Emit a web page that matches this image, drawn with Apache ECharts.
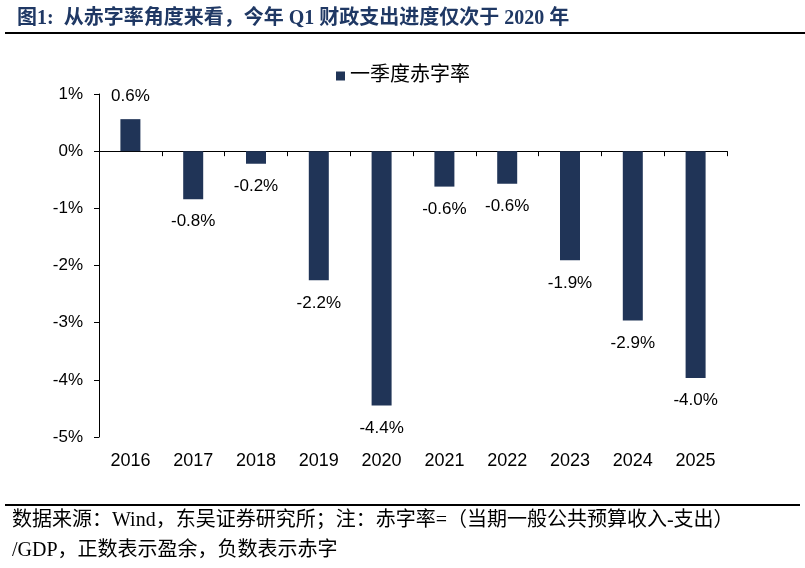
<!DOCTYPE html>
<html lang="zh">
<head>
    <meta charset="UTF-8">
    <title>一季度赤字率</title>
    <script type="text/javascript" src="https://cdn.jsdelivr.net/npm/echarts@6/dist/echarts.min.js"></script>
    <style>
        html, body { margin: 0; padding: 0; background: #fff; }
        #chart { width: 805px; height: 568px; }
    </style>
</head>
<body>
<div id="chart"></div>
<script type="text/javascript">
    // 数据
    var years = ['2016', '2017', '2018', '2019', '2020', '2021', '2022', '2023', '2024', '2025'];
    var deficitRate = [0.56, -0.84, -0.22, -2.26, -4.45, -0.62, -0.57, -1.91, -2.96, -3.97];
    var valueLabels = ['0.6%', '-0.8%', '-0.2%', '-2.2%', '-4.4%', '-0.6%', '-0.6%', '-1.9%', '-2.9%', '-4.0%'];
    var yTicks = [1, 0, -1, -2, -3, -4, -5];

    var narrow = "'Liberation Sans Narrow', 'Arial Narrow', 'Liberation Sans', sans-serif";
    var serif = "'Liberation Serif', 'Noto Sans CJK SC', serif";

    var mychart = echarts.init(document.getElementById('chart'));
    var option = {
        animation: false,
        title: {
            text: '图1:  从赤字率角度来看，今年 Q1 财政支出进度仅次于 2020 年',
            left: 12,
            top: 4,
            textStyle: {
                fontFamily: serif,
                fontWeight: 'bold',
                fontSize: 20,
                color: '#1f3864'
            }
        },
        legend: {
            data: ['一季度赤字率'],
            left: 331,
            top: 61,
            itemWidth: 9,
            itemHeight: 9,
            itemGap: 6,
            icon: 'rect',
            textStyle: { fontFamily: serif, fontSize: 20, color: '#000' }
        },
        grid: { left: 99, right: 78, top: 94, bottom: 131, containLabel: false, outerBoundsMode: 'none' },
        xAxis: [
            {
                // 0 轴线和刻度
                type: 'category',
                data: years,
                axisLine: { onZero: true, lineStyle: { color: '#000', width: 1 } },
                axisTick: { show: true, length: 5, lineStyle: { color: '#000' } },
                axisLabel: { show: false }
            },
            {
                // 底部年份标签
                type: 'category',
                data: years,
                position: 'bottom',
                axisLine: { show: false, onZero: false },
                axisTick: { show: false },
                axisLabel: {
                    margin: 15,
                    fontFamily: narrow,
                    fontSize: 18,
                    color: '#000'
                }
            }
        ],
        yAxis: {
            type: 'value',
            min: -5,
            max: 1,
            interval: 1,
            splitLine: { show: false },
            axisLine: { show: true, lineStyle: { color: '#000' } },
            axisTick: { show: true, length: 5, lineStyle: { color: '#000' } },
            axisLabel: {
                margin: 16,
                fontFamily: narrow,
                fontSize: 17,
                color: '#000',
                formatter: function (v) {
                    return yTicks.indexOf(v) >= 0 ? v + '%' : '';
                }
            }
        },
        series: [{
            name: '一季度赤字率',
            type: 'bar',
            xAxisIndex: 0,
            barWidth: 20,
            data: deficitRate,
            itemStyle: { color: '#203457' },
            label: {
                show: true,
                position: 'outside',
                distance: 14,
                fontFamily: narrow,
                fontSize: 17,
                color: '#000',
                formatter: function (p) {
                    return valueLabels[p.dataIndex];
                }
            }
        }],
        graphic: [
            {
                type: 'rect',
                shape: { x: 5, y: 32, width: 800, height: 2 },
                style: { fill: '#000' }
            },
            {
                type: 'rect',
                shape: { x: 5, y: 504, width: 795, height: 2 },
                style: { fill: '#000' }
            },
            {
                type: 'text',
                left: 12,
                top: 511,
                style: {
                    text: '数据来源：Wind，东吴证券研究所；注：赤字率=（当期一般公共预算收入-支出）',
                    font: "20px " + serif,
                    fill: '#000'
                }
            },
            {
                type: 'text',
                left: 12,
                top: 541,
                style: {
                    text: '/GDP，正数表示盈余，负数表示赤字',
                    font: "20px " + serif,
                    fill: '#000'
                }
            }
        ]
    };
    mychart.setOption(option);
</script>
</body>
</html>
